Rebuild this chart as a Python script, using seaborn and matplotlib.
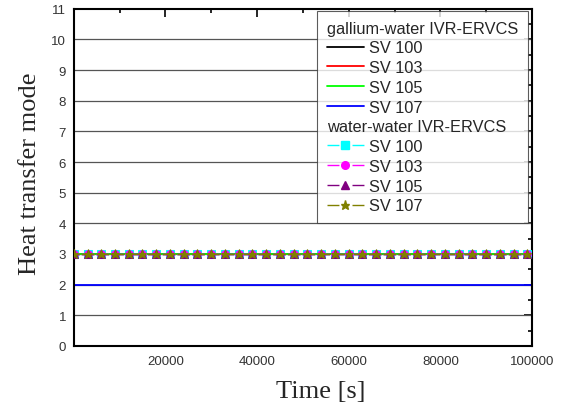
import matplotlib
matplotlib.use("Agg")
import matplotlib.pyplot as plt
import seaborn as sns
from matplotlib.lines import Line2D
from matplotlib.ticker import MultipleLocator

# gallium-water IVR-ERVCS (solid lines)
ga_time = [0, 100000]
ga_sv100 = [3, 3]
ga_sv103 = [3, 3]
ga_sv105 = [3, 3]
ga_sv107 = [2, 2]

# water-water IVR-ERVCS (dashed lines with symbols)
ww_time = [0, 3000, 6000, 9000, 12000, 15000, 18000, 21000, 24000, 27000,
           30000, 33000, 36000, 39000, 42000, 45000, 48000, 51000, 54000,
           57000, 60000, 63000, 66000, 69000, 72000, 75000, 78000, 81000,
           84000, 87000, 90000, 93000, 96000, 99000]
ww_sv100 = [3, 3, 3, 3, 3, 3, 3, 3, 3, 3, 3, 3, 3, 3, 3, 3, 3,
            3, 3, 3, 3, 3, 3, 3, 3, 3, 3, 3, 3, 3, 3, 3, 3, 3]
ww_sv103 = [3, 3, 3, 3, 3, 3, 3, 3, 3, 3, 3, 3, 3, 3, 3, 3, 3,
            3, 3, 3, 3, 3, 3, 3, 3, 3, 3, 3, 3, 3, 3, 3, 3, 3]
ww_sv105 = [3, 3, 3, 3, 3, 3, 3, 3, 3, 3, 3, 3, 3, 3, 3, 3, 3,
            3, 3, 3, 3, 3, 3, 3, 3, 3, 3, 3, 3, 3, 3, 3, 3, 3]
ww_sv107 = [3, 3, 3, 3, 3, 3, 3, 3, 3, 3, 3, 3, 3, 3, 3, 3, 3,
            3, 3, 3, 3, 3, 3, 3, 3, 3, 3, 3, 3, 3, 3, 3, 3, 3]

sns.set_style("white")
plt.rcParams['font.family'] = ['Liberation Sans', 'DejaVu Sans']

fig = plt.figure(figsize=(5.63, 4.10), dpi=100)
ax = fig.add_axes([0.131, 0.154, 0.814, 0.822])

# horizontal grid at each integer
for yv in range(1, 11):
    ax.axhline(yv, color="#555555", lw=0.9, zorder=1)

ga_styles = [(ga_sv100, "black"), (ga_sv103, "#ff0000"),
             (ga_sv105, "#00ff00"), (ga_sv107, "#0000ff")]
ww_styles = [(ww_sv100, "#00ffff", "s"), (ww_sv103, "#ff00ff", "o"),
             (ww_sv105, "#800080", "^"), (ww_sv107, "#808000", "*")]

for vals, col, mk in ww_styles:
    sns.lineplot(x=ww_time, y=vals, color=col, lw=1.0, linestyle="--",
                 marker=mk, markersize=6.5 if mk == "*" else 5.5,
                 markeredgecolor=col, ax=ax, zorder=3)

for vals, col in ga_styles:
    sns.lineplot(x=ga_time, y=vals, color=col, lw=1.3, ax=ax, zorder=2)

ax.set_xlim(0, 100000)
ax.set_ylim(0, 11)
ax.xaxis.set_major_locator(MultipleLocator(20000))
ax.xaxis.set_minor_locator(MultipleLocator(10000))
ax.yaxis.set_major_locator(MultipleLocator(1))
ax.yaxis.set_minor_locator(MultipleLocator(0.5))
ax.set_xticks([20000, 40000, 60000, 80000, 100000])
ax.tick_params(which="both", direction="in", top=True, right=True,
               labelsize=9.5, labelcolor="#333333", width=1.2, color="black")
ax.tick_params(which="major", length=6)
ax.tick_params(which="minor", length=3)
ax.tick_params(axis="x", pad=6.5)
ax.tick_params(axis="y", pad=5.5)
for sp in ax.spines.values():
    sp.set_linewidth(1.5)
    sp.set_color("black")

ax.set_xlabel("Time [s]", family="Liberation Serif", fontsize=19)
ax.set_ylabel("Heat transfer mode", family="Liberation Serif", fontsize=19)
ax.xaxis.set_label_coords(0.539, -0.10)
ax.yaxis.set_label_coords(-0.072, 0.515)

# legend with two group headers
blank = Line2D([], [], linestyle="none")
handles = [blank]
labels = ["gallium-water IVR-ERVCS"]
for (vals, col), name in zip(ga_styles, ["SV 100", "SV 103", "SV 105", "SV 107"]):
    handles.append(Line2D([], [], color=col, lw=1.3))
    labels.append(name)
handles.append(blank)
labels.append("water-water IVR-ERVCS")
for (vals, col, mk), name in zip(ww_styles, ["SV 100", "SV 103", "SV 105", "SV 107"]):
    handles.append(Line2D([], [], color=col, lw=1.0, linestyle=(0, (8.6, 9.4)),
                          marker=mk, markersize=6.5 if mk == "*" else 5.5,
                          markeredgecolor=col))
    labels.append(name)

leg = ax.legend(handles, labels, loc="upper right",
                bbox_to_anchor=(0.991, 0.994), borderaxespad=0,
                fontsize=11.8, handlelength=2.25, handletextpad=0.35,
                labelspacing=0.29, borderpad=0.6, fancybox=False,
                frameon=True)
leg.get_frame().set_edgecolor("#333333")
leg.get_frame().set_linewidth(0.8)
leg.set_zorder(5)

header_idx = [0, 5]
rows = [hp for vp in leg._legend_handle_box.get_children() for hp in vp.get_children()]
for i in header_idx:
    rows[i].get_children()[0].set_width(0)
    rows[i].sep = 0

fig.savefig("out.png", dpi=100)
